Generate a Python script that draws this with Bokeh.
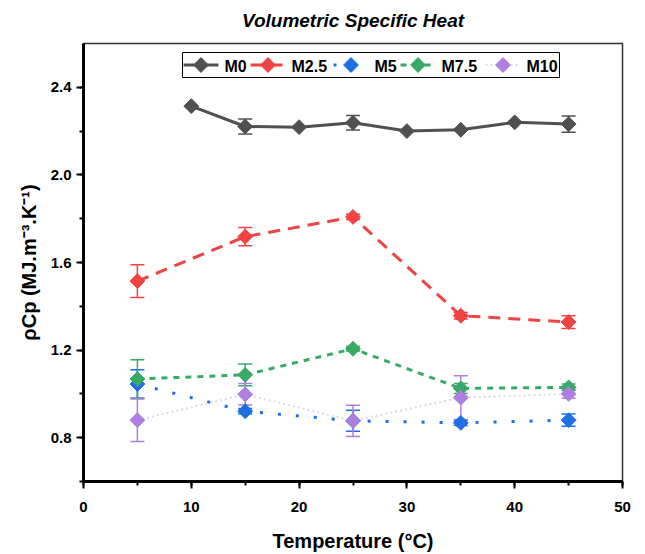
import math
from bokeh.plotting import figure
from bokeh.models import (ColumnDataSource, Whisker, TeeHead, SingleIntervalTicker,
                          NumeralTickFormatter, Range1d, Title)
from bokeh.core.properties import value
from bokeh.embed import file_html
from bokeh.resources import INLINE

# ---------------- data ----------------
temps_m0 = [10, 15, 20, 25, 30, 35, 40, 45]
m0 = [2.314, 2.221, 2.218, 2.238, 2.200, 2.206, 2.240, 2.232]
m0_err = [0, 0.034, 0, 0.033, 0, 0, 0, 0.037]

temps = [5, 15, 25, 35, 45]
m2_5 = [1.515, 1.718, 1.808, 1.357, 1.328]
m2_5_err = [0.075, 0.042, 0.012, 0.015, 0.029]
m5 = [1.045, 0.921, 0.877, 0.868, 0.880]
m5_err = [0.065, 0.012, 0.048, 0.012, 0.028]
m7_5 = [1.068, 1.087, 1.206, 1.025, 1.030]
m7_5_err = [0.088, 0.050, 0.010, 0.023, 0.015]
m10 = [0.880, 0.998, 0.877, 0.983, 1.000]
m10_err = [0.097, 0.049, 0.071, 0.100, 0.020]

labels = ["M0", "M2.5", "M5", "M7.5", "M10"]
title_text = "Volumetric Specific Heat"

# ---------------- styles ----------------
series = [
    (temps_m0, m0, m0_err, "#505050", "#505050", None, 3),
    (temps, m2_5, m2_5_err, "#f04343", "#f04343", "12 8", 3),
    (temps, m5, m5_err, "#1f6fe3", "#1f6fe3", "3 15", 3),
    (temps, m7_5, m7_5_err, "#38aa68", "#38aa68", "6 6", 3),
    (temps, m10, m10_err, "#b07ee0", "#e0d8ea", "2 3", 2),
]

FONT = "Liberation Sans"
X0, X1, Y0, Y1 = 0, 50, 0.6, 2.6
FL, FT, FW, FH = 83, 43, 539, 438      # frame position/size in screen px
W, H = 645, 554

p = figure(width=W, height=H, output_backend="svg", toolbar_location=None,
           x_range=Range1d(X0, X1), y_range=Range1d(Y0, Y1),
           min_border_left=FL, min_border_right=W - FL - FW,
           min_border_top=FT, min_border_bottom=H - FT - FH)

p.title = None
# small spacer between frame and title, then the title itself
p.add_layout(Title(text=" ", text_font_size="2px", standoff=7), "above")
p.add_layout(Title(text=title_text, align="center",
                   text_font=FONT, text_font_size="19px", text_font_style="bold italic",
                   text_color="black", standoff=4), "above")

p.xgrid.visible = False
p.ygrid.visible = False
p.outline_line_color = "#333333"
p.outline_line_width = 1.5
p.background_fill_color = "white"
p.border_fill_color = "white"

MSIZE = 10.5
for xs, ys, errs, col, lcol, dash, lw in series:
    src = ColumnDataSource(dict(x=xs, y=ys))
    kw = dict(line_color=lcol, line_width=lw)
    if dash:
        kw["line_dash"] = dash
    p.line("x", "y", source=src, **kw)
    ex = [x for x, e in zip(xs, errs) if e > 0]
    ey = [y for y, e in zip(ys, errs) if e > 0]
    ee = [e for e in errs if e > 0]
    esrc = ColumnDataSource(dict(x=ex, upper=[y + e for y, e in zip(ey, ee)],
                                 lower=[y - e for y, e in zip(ey, ee)]))
    w = Whisker(source=esrc, base="x", upper="upper", lower="lower",
                line_color=col, line_width=1.5,
                upper_head=TeeHead(size=14, line_color=col, line_width=1.5),
                lower_head=TeeHead(size=14, line_color=col, line_width=1.5))
    p.add_layout(w)
    p.scatter("x", "y", source=src, marker="square", angle=math.pi / 4,
              size=MSIZE, fill_color=col, line_color=col)

# ---------------- legend (drawn by hand so the markers are diamonds) ----------------
def sx(px):
    return X0 + (px - FL) * (X1 - X0) / FW

def sy(py):
    return Y1 - (py - FT) * (Y1 - Y0) / FH

LEG_BOX = (182, 559, 52, 77)        # left, right, top, bottom (px)
LEG_GLYPH_X = [183, 250, 333, 400, 485]
LEG_GLYPH_W = 35
LEG_TEXT_GAP = 6
leg_cy = (LEG_BOX[2] + LEG_BOX[3]) / 2

p.quad(left=[sx(LEG_BOX[0])], right=[sx(LEG_BOX[1])],
       top=[sy(LEG_BOX[2])], bottom=[sy(LEG_BOX[3])],
       fill_color="white", line_color="black", line_width=1)

for (xs, ys, errs, col, lcol, dash, lw), lab, gx in zip(series, labels, LEG_GLYPH_X):
    kw = dict(line_color=lcol, line_width=lw)
    if dash:
        kw["line_dash"] = dash
    p.segment(x0=[sx(gx)], y0=[sy(leg_cy)], x1=[sx(gx + LEG_GLYPH_W)], y1=[sy(leg_cy)], **kw)
    p.scatter(x=[sx(gx + LEG_GLYPH_W / 2)], y=[sy(leg_cy)], marker="square",
              angle=math.pi / 4, size=MSIZE, fill_color=col, line_color=col)
    p.text(x=[sx(gx + LEG_GLYPH_W + LEG_TEXT_GAP)], y=[sy(leg_cy + 1)], text=[lab],
           text_font=value(FONT), text_font_size="16px", text_font_style="bold",
           text_color="black", text_align="left", text_baseline="middle")

# ---------------- axes ----------------
for ax in (p.xaxis[0], p.yaxis[0]):
    ax.axis_line_width = 3
    ax.axis_line_color = "black"
    ax.major_tick_line_width = 2
    ax.minor_tick_line_width = 2
    ax.major_tick_out = 7
    ax.major_tick_in = 0
    ax.minor_tick_out = 4
    ax.minor_tick_in = 0
    ax.major_label_text_font = FONT
    ax.major_label_text_font_size = "15px"
    ax.major_label_text_font_style = "bold"
    ax.major_label_text_color = "black"
    ax.axis_label_text_font = FONT
    ax.axis_label_text_font_style = "bold"
    ax.axis_label_text_color = "black"

p.xaxis.ticker = SingleIntervalTicker(interval=10, num_minor_ticks=2)
p.yaxis.ticker = SingleIntervalTicker(interval=0.4, num_minor_ticks=2)
p.yaxis.formatter = NumeralTickFormatter(format="0.0")
p.xaxis.axis_label = "Temperature (°C)"
p.yaxis.axis_label = "ρCp (MJ.m⁻³.K⁻¹)"
p.xaxis.axis_label_text_font_size = "20px"
p.yaxis.axis_label_text_font_size = "20px"
p.xaxis.major_label_standoff = 13
p.yaxis.major_label_standoff = 5
p.xaxis.axis_label_standoff = 15
p.yaxis.axis_label_standoff = 8

open("out.html", "w").write(file_html(p, INLINE))
